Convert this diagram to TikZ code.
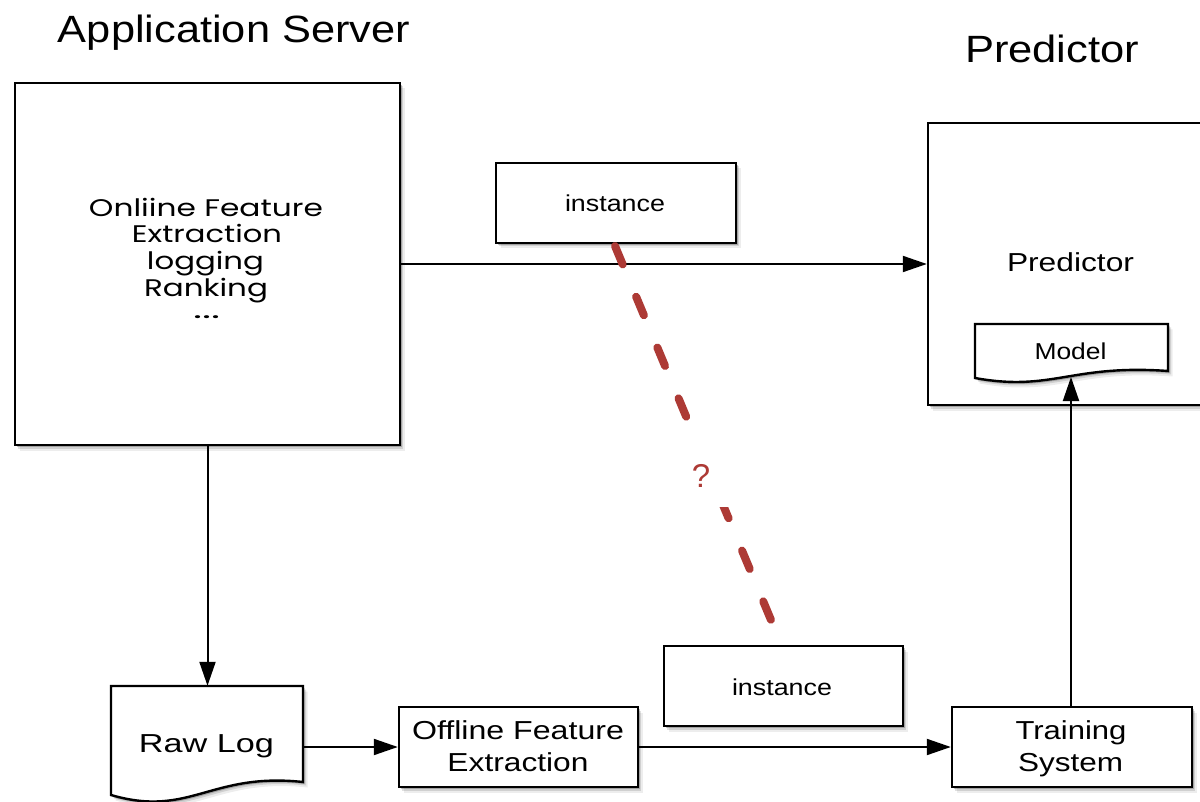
\documentclass[tikz,border=0pt]{standalone}
\usepackage{fontspec}
\setmainfont{Liberation Sans}
\newfontfamily\geofont{Poppins}
\usetikzlibrary{arrows.meta,shadows}
% set a label to a given width, keeping its height
\newcommand\fitw[2]{\resizebox{#1}{\height}{#2}}
\definecolor{qred}{HTML}{AD3A35}

\begin{document}
\begin{tikzpicture}[x=1pt,y=-1pt,
  shade/.style={
    drop shadow={shadow xshift=4.5pt,shadow yshift=-5.5pt,opacity=.07,fill=black},
    drop shadow={shadow xshift=3pt,shadow yshift=-3.5pt,opacity=.12,fill=black},
    drop shadow={shadow xshift=1.5pt,shadow yshift=-2pt,opacity=.22,fill=black}},
  box/.style={draw,line width=2.4pt,fill=white,inner sep=0pt,shade},
  docshape/.style={draw,line width=2.4pt,fill=white,line join=miter,shade},
  flow/.style={line width=2pt,-{Triangle[length=24pt,width=16pt]}},
  lbl/.style={inner sep=0pt,anchor=base},
  big/.style={lbl,font=\fontsize{38}{38}\selectfont},
  mid/.style={lbl,font=\fontsize{26}{26}\selectfont},
  small/.style={lbl,font=\fontsize{23}{23}\selectfont},
  geo/.style={lbl,font=\geofont\fontsize{24}{24}\selectfont},
  hint/.style={line width=8pt,line cap=round,draw=qred,dash pattern=on 20pt off 35pt}]
\useasboundingbox (0,0) rectangle (1200,802);

% titles
\node[big] (apptitle) at (234,43) {\fitw{352pt}{Application Server}};
\node[big] (predtitle) at (1052,63) {\fitw{174pt}{Predictor}};

% boxes
\node[box,minimum width=385pt,minimum height=362pt] (app) at (207.5,264) {};
\node[box,minimum width=284pt,minimum height=282pt] (pred) at (1070,264) {};
\node[box,minimum width=240pt,minimum height=80pt] (inst1) at (616,203) {};
\node[box,minimum width=239pt,minimum height=80pt] (inst2) at (783.5,686) {};
\node[box,minimum width=239pt,minimum height=80pt] (offline) at (518.5,747) {};
\node[box,minimum width=240pt,minimum height=80pt] (train) at (1072,747) {};

% document shapes: raw log and model
\node[inner sep=0pt,minimum width=192pt,minimum height=96pt] (rawlog) at (207,734) {};
\draw[docshape] (111,686) -- (303,686) -- (303,782)
  .. controls (210,772) and (190,818) .. (111,795) -- cycle;
\node[inner sep=0pt,minimum width=193pt,minimum height=47pt] (model) at (1071.5,347.5) {};
\draw[docshape] (975,324) -- (1168,324) -- (1168,371)
  .. controls (1071,364) and (1052,392) .. (975,378) -- cycle;
\coordinate (modelbot) at (1071,377);

% labels
\node[geo] (on1) at (206,217) {\fitw{234pt}{Onliine Feature}};
\node[geo] (on2) at (207,243) {\fitw{150pt}{Extraction}};
\node[geo] (on3) at (205.5,270) {\fitw{117pt}{logging}};
\node[geo] (on4) at (206,297) {\fitw{124pt}{Ranking}};
\node[geo] (on5) at (206.5,319) {\fitw{27pt}{...}};
\node[small] (inst1t) at (615,212) {\fitw{100pt}{instance}};
\node[small] (inst2t) at (782,695) {\fitw{100pt}{instance}};
\node[mid] (predt) at (1070.5,272) {\fitw{127pt}{Predictor}};
\node[small] (modelt) at (1070.5,360) {\fitw{72pt}{Model}};
\node[mid] (rawt) at (206.5,752) {\fitw{135pt}{Raw Log}};
\node[mid] (off1) at (518,739) {\fitw{212pt}{Offline Feature}};
\node[mid] (off2) at (518,771) {\fitw{141pt}{Extraction}};
\node[mid] (tr1) at (1071,739) {\fitw{111pt}{Training}};
\node[mid] (tr2) at (1070.5,771) {\fitw{105pt}{System}};

% connectors
\draw[flow] (app.east) -- (pred.west);
\draw[flow] (app.south) -- (app.south |- rawlog.north);
\draw[flow] (rawlog.east |- offline.west) -- (offline.west);
\draw[flow] (offline.east) -- (train.west);
\draw[flow] (train.north -| modelbot) -- (modelbot);

% open question between the two instances
\coordinate (qa) at (615,246);
\coordinate (qb) at (771,620);
\draw[hint] (qa) -- (qb);
\node[fill=white,inner sep=0pt,minimum width=60pt,minimum height=62pt,
  text=qred,font=\fontsize{33}{33}\selectfont] (q) at (701,476) {?};
\end{tikzpicture}
\end{document}
